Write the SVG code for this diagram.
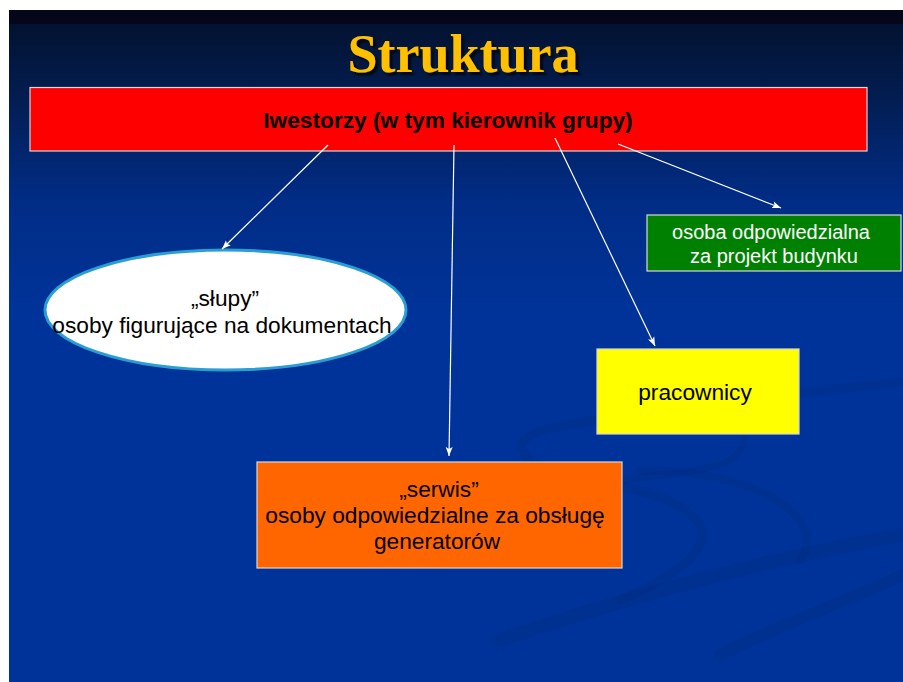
<svg xmlns="http://www.w3.org/2000/svg" width="903" height="682" viewBox="0 0 903 682">
  <defs>
    <linearGradient id="bg" x1="0" y1="0" x2="0" y2="1" gradientUnits="objectBoundingBox">
      <stop offset="0" stop-color="#02102a"/>
      <stop offset="0.12" stop-color="#031c4e"/>
      <stop offset="0.28" stop-color="#012c85"/>
      <stop offset="0.45" stop-color="#003399"/>
      <stop offset="1" stop-color="#003399"/>
    </linearGradient>
    <filter id="shadow" x="-10%" y="-20%" width="130%" height="150%">
      <feDropShadow dx="3" dy="3" stdDeviation="1" flood-color="#000000" flood-opacity="0.75"/>
    </filter>
    <marker id="arr" markerWidth="10" markerHeight="8" refX="9" refY="4" orient="auto" markerUnits="userSpaceOnUse">
      <path d="M0,0.5 L9,4 L0,7.5 L2,4 z" fill="#ffffff"/>
    </marker>
    <style>
      .box { stroke: #d8d8d8; stroke-width: 1.2; }
      .lbl { font-family: "Liberation Sans", Arial, sans-serif; font-size: 22.7px; text-anchor: middle; fill: #000000; }
      .conn line { stroke: #ffffff; stroke-width: 1.2; marker-end: url(#arr); }
      .swirl { fill: none; stroke: #002a80; stroke-linecap: round; opacity: 0.35; }
    </style>
  </defs>

  <!-- background -->
  <rect x="0" y="0" width="903" height="682" fill="#ffffff"/>
  <rect x="9" y="10" width="894" height="672" fill="url(#bg)"/>
  <rect x="9" y="10" width="894" height="14" fill="#05061a"/>
  <g id="swirl">
    <path class="swirl" stroke-width="9" d="M903,382 C800,392 620,412 545,430 C500,442 520,470 600,482 C700,500 760,540 620,600"/>
    <path class="swirl" stroke-width="7" d="M700,395 C740,410 760,440 730,460 C700,478 620,470 560,500"/>
    <path class="swirl" stroke-width="14" d="M500,640 C620,600 760,560 903,535"/>
    <path class="swirl" stroke-width="12" d="M720,655 C790,620 850,600 903,575"/>
    <path class="swirl" stroke-width="8" d="M640,470 C760,470 830,520 800,560"/>
  </g>

  <!-- title -->
  <g id="title">
    <text x="463" y="72" font-family="'Liberation Serif', 'Times New Roman', serif" font-weight="bold" font-size="54" text-anchor="middle" fill="#ffc000" filter="url(#shadow)">Struktura</text>
  </g>

  <!-- nodes -->
  <g id="inwestorzy">
    <rect class="box" x="30" y="87.5" width="837" height="63.5" fill="#ff0000"/>
    <text class="lbl" x="448" y="128" font-weight="bold">Iwestorzy (w tym kierownik grupy)</text>
  </g>

  <g id="slupy">
    <ellipse cx="225.5" cy="310" rx="180.5" ry="60" fill="#ffffff" stroke="#2a9ed4" stroke-width="3"/>
    <text class="lbl" x="225" y="306">„słupy”</text>
    <text class="lbl" x="222" y="333">osoby figurujące na dokumentach</text>
  </g>

  <g id="projekt">
    <rect class="box" x="647" y="215" width="254" height="56" fill="#008000"/>
    <text class="lbl" x="771" y="239" style="font-size:20px;fill:#ffffff">osoba odpowiedzialna</text>
    <text class="lbl" x="774" y="263" style="font-size:20px;fill:#ffffff">za projekt budynku</text>
  </g>

  <g id="pracownicy">
    <rect class="box" x="597" y="349" width="202" height="85" fill="#ffff00"/>
    <text class="lbl" x="695" y="400">pracownicy</text>
  </g>

  <g id="serwis">
    <rect class="box" x="257" y="462" width="365" height="106" fill="#ff6600"/>
    <text class="lbl" x="439" y="497">„serwis”</text>
    <text class="lbl" x="435" y="523">osoby odpowiedzialne za obsługę</text>
    <text class="lbl" x="437" y="549">generatorów</text>
  </g>

  <!-- connectors -->
  <g id="connectors" class="conn">
    <line x1="328" y1="145" x2="222" y2="249"/>
    <line x1="454" y1="145" x2="449" y2="456"/>
    <line x1="555" y1="138" x2="655" y2="346"/>
    <line x1="618" y1="144" x2="781" y2="208"/>
  </g>
</svg>
